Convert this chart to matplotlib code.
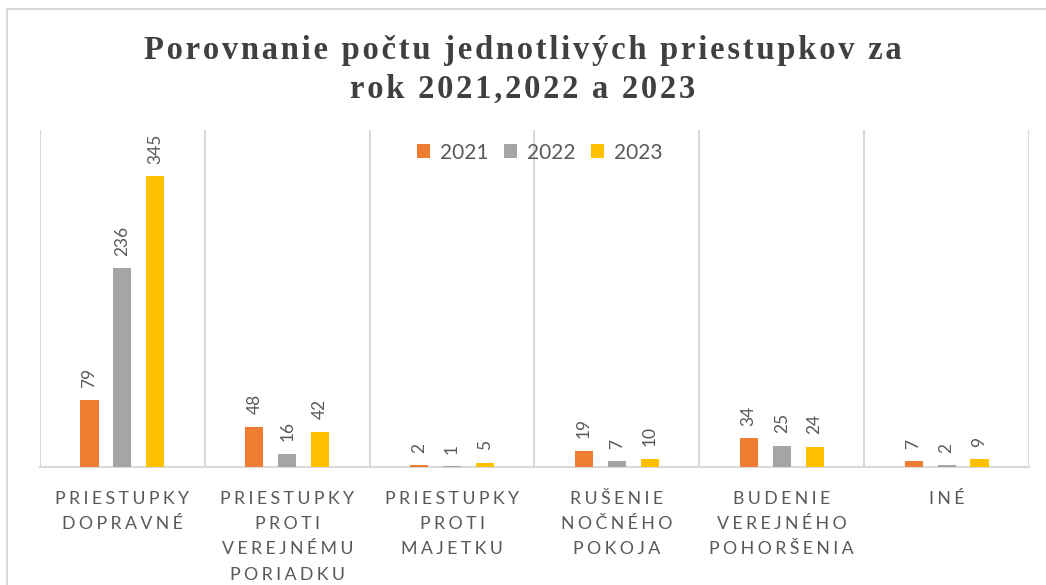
import numpy as np
import matplotlib
matplotlib.use("Agg")
import matplotlib.pyplot as plt
from matplotlib.lines import Line2D

# data
categories = ["PRIESTUPKY\nDOPRAVNÉ", "PRIESTUPKY\nPROTI\nVEREJNÉMU\nPORIADKU",
              "PRIESTUPKY\nPROTI\nMAJETKU", "RUŠENIE\nNOČNÉHO\nPOKOJA",
              "BUDENIE\nVEREJNÉHO\nPOHORŠENIA", "INÉ"]
years = ["2021", "2022", "2023"]
v2021 = [79, 48, 2, 19, 34, 7]
v2022 = [236, 16, 1, 7, 25, 2]
v2023 = [345, 42, 5, 10, 24, 9]
colors = ["#ED7D31", "#A5A5A5", "#FFC000"]
title = "Porovnanie počtu jednotlivých priestupkov za\nrok 2021,2022 a 2023"

TXT = "#595959"
GRID = "#D9D9D9"
SANS = ["Lato", "DejaVu Sans"]


def track(s, sep="\u2009"):
    # fake letter spacing by putting a thin space between characters
    return "\n".join(sep.join(line) for line in s.split("\n"))


fig = plt.figure(figsize=(10.46, 5.85), dpi=100)
ax = fig.add_axes([40 / 1046, 1 - 467 / 585, (1029 - 40) / 1046, (467 - 130) / 585])

x = np.arange(len(categories))
offsets = [-0.2, 0.0, 0.2]
for vals, yr, col, off in zip([v2021, v2022, v2023], years, colors, offsets):
    bars = ax.bar(x + off, vals, width=0.11, color=col, label=yr, zorder=3)
    ax.bar_label(bars, labels=[str(v) for v in vals], rotation=90, padding=9,
                 color=TXT, fontsize=12.5, family=SANS)

ax.set_xlim(-0.5, len(categories) - 0.5)
ax.set_ylim(0, 400)
ax.set_yticks([])
ax.set_xticks(np.arange(len(categories) + 1) - 0.5, minor=True)
ax.set_xticks(x)
ax.set_xticklabels([])
ax.tick_params(axis="x", which="both", length=0)
ax.grid(axis="x", which="minor", color=GRID, linewidth=1.5, zorder=0)
for side in ["top", "left", "right"]:
    ax.spines[side].set_visible(False)
ax.spines["bottom"].set_color(GRID)
ax.spines["bottom"].set_linewidth(1.5)

# category labels with letter spacing
for xi, cat in zip(x, categories):
    ax.text(xi, -0.072, track(cat, "\u2009\u200a"), transform=ax.get_xaxis_transform(),
            ha="center", va="top", color=TXT, fontsize=12.8, family=SANS,
            linespacing=1.7, multialignment="center")

leg = ax.legend(loc="upper center", bbox_to_anchor=(0.505, 1.0), ncol=3, frameon=False,
                handlelength=0.65, handleheight=0.65, columnspacing=0.75,
                handletextpad=0.45, borderaxespad=0.2, prop={"family": SANS, "size": 15})
for t in leg.get_texts():
    t.set_color(TXT)

fig.text(0.5, 0.94, track(title, "\u200a"), ha="center", va="top",
         family=["Liberation Serif", "DejaVu Serif"], fontweight="bold",
         fontsize=23.5, color="#404040", linespacing=1.32)

# chart area border (left and top edges visible)
fig.add_artist(Line2D([6.5 / 1046, 6.5 / 1046], [0, 1 - 9 / 585], transform=fig.transFigure,
                      color=GRID, linewidth=1.5))
fig.add_artist(Line2D([6.5 / 1046, 1], [1 - 9 / 585, 1 - 9 / 585], transform=fig.transFigure,
                      color=GRID, linewidth=1.5))

fig.savefig("out.png", dpi=100)
